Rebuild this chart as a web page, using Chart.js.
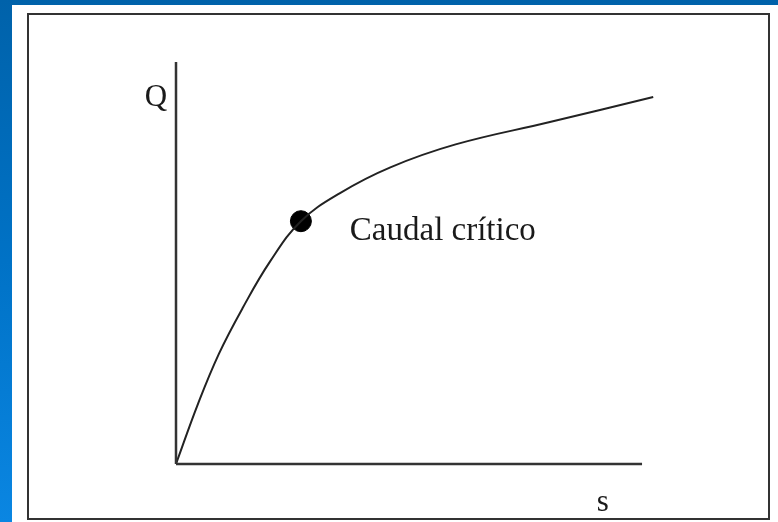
<!DOCTYPE html>
<html>
<head>
<meta charset="utf-8">
<script src="https://cdn.jsdelivr.net/npm/chart.js@4.4.0/dist/chart.umd.min.js"></script>
<style>
  html, body { margin: 0; padding: 0; }
  body {
    width: 778px; height: 522px; overflow: hidden; position: relative;
    background: linear-gradient(to bottom, #0062aa 0%, #0072c6 50%, #0a86e2 100%);
  }
  #blanco {
    position: absolute; left: 12px; top: 5px; width: 766px; height: 517px;
    background: #ffffff;
  }
  #marco {
    position: absolute; left: 27px; top: 13px; width: 739px; height: 503px;
    border: 2px solid #333333;
  }
  #grafico {
    position: absolute; left: 0; top: 0;
  }
</style>
</head>
<body>
<div id="blanco"></div>
<div id="marco"></div>
<canvas id="grafico" width="778" height="522"></canvas>
<script>
// curva caudal (Q) vs descenso (s), unidades del grafico
const abatimiento = [0, 4.7, 9.2, 14.3, 20.2, 26.8, 35.2, 46.0, 60.0, 80.0, 102.4];
const caudal = [0, 14.9, 27.4, 38.8, 50.4, 60.4, 67.4, 73.8, 79.5, 85.0, 91.3];

// punto critico
const puntoCritico = { x: 26.8, y: 60.4 };

// ejes
const ejeX = [0, 100];
const ejeY = [0, 100];

// textos
const textos = [
  { texto: "Q", x: -6.7, y: 89, size: 31 },
  { texto: "Caudal crítico", x: 37.3, y: 55.6, size: 33 },
  { texto: "s", x: 90.3, y: -11.7, size: 31 },
];

const curva = [];
for (let i = 0; i < abatimiento.length; i++) {
  curva.push({ x: abatimiento[i], y: caudal[i] });
}

const textosPlugin = {
  id: "textos",
  afterDatasetsDraw(chart) {
    const ctx = chart.ctx;
    const sx = chart.scales.x;
    const sy = chart.scales.y;
    ctx.save();
    ctx.fillStyle = "#1a1a1a";
    ctx.textBaseline = "alphabetic";
    ctx.textAlign = "left";
    for (const t of textos) {
      ctx.font = t.size + 'px "Liberation Serif", "DejaVu Serif", serif';
      ctx.fillText(t.texto, sx.getPixelForValue(t.x), sy.getPixelForValue(t.y));
    }
    ctx.restore();
  },
};

const grafico = document.getElementById("grafico").getContext("2d");
const myChart = new Chart(grafico, {
  type: "line",
  data: {
    datasets: [
      {
        data: [{ x: ejeX[0], y: 0 }, { x: ejeX[1], y: 0 }],
        borderColor: "#333333",
        borderWidth: 2.5,
        pointRadius: 0,
        clip: false,
      },
      {
        data: [{ x: 0, y: ejeY[0] }, { x: 0, y: ejeY[1] }],
        borderColor: "#333333",
        borderWidth: 2.5,
        pointRadius: 0,
        clip: false,
      },
      {
        data: curva,
        borderColor: "#222222",
        borderWidth: 2,
        pointRadius: 0,
        tension: 0.4,
        clip: false,
      },
      {
        data: [puntoCritico],
        backgroundColor: "#000000",
        borderColor: "#000000",
        pointRadius: 10.5,
        showLine: false,
        clip: false,
      },
    ],
  },
  options: {
    responsive: false,
    animation: false,
    layout: {
      padding: { left: 176, right: 108, top: 62, bottom: 58 },
    },
    scales: {
      x: { type: "linear", min: 0, max: 106, display: false },
      y: { type: "linear", min: 0, max: 100, display: false },
    },
    plugins: {
      legend: { display: false },
      tooltip: { enabled: false },
    },
  },
  plugins: [textosPlugin],
});
</script>
</body>
</html>
